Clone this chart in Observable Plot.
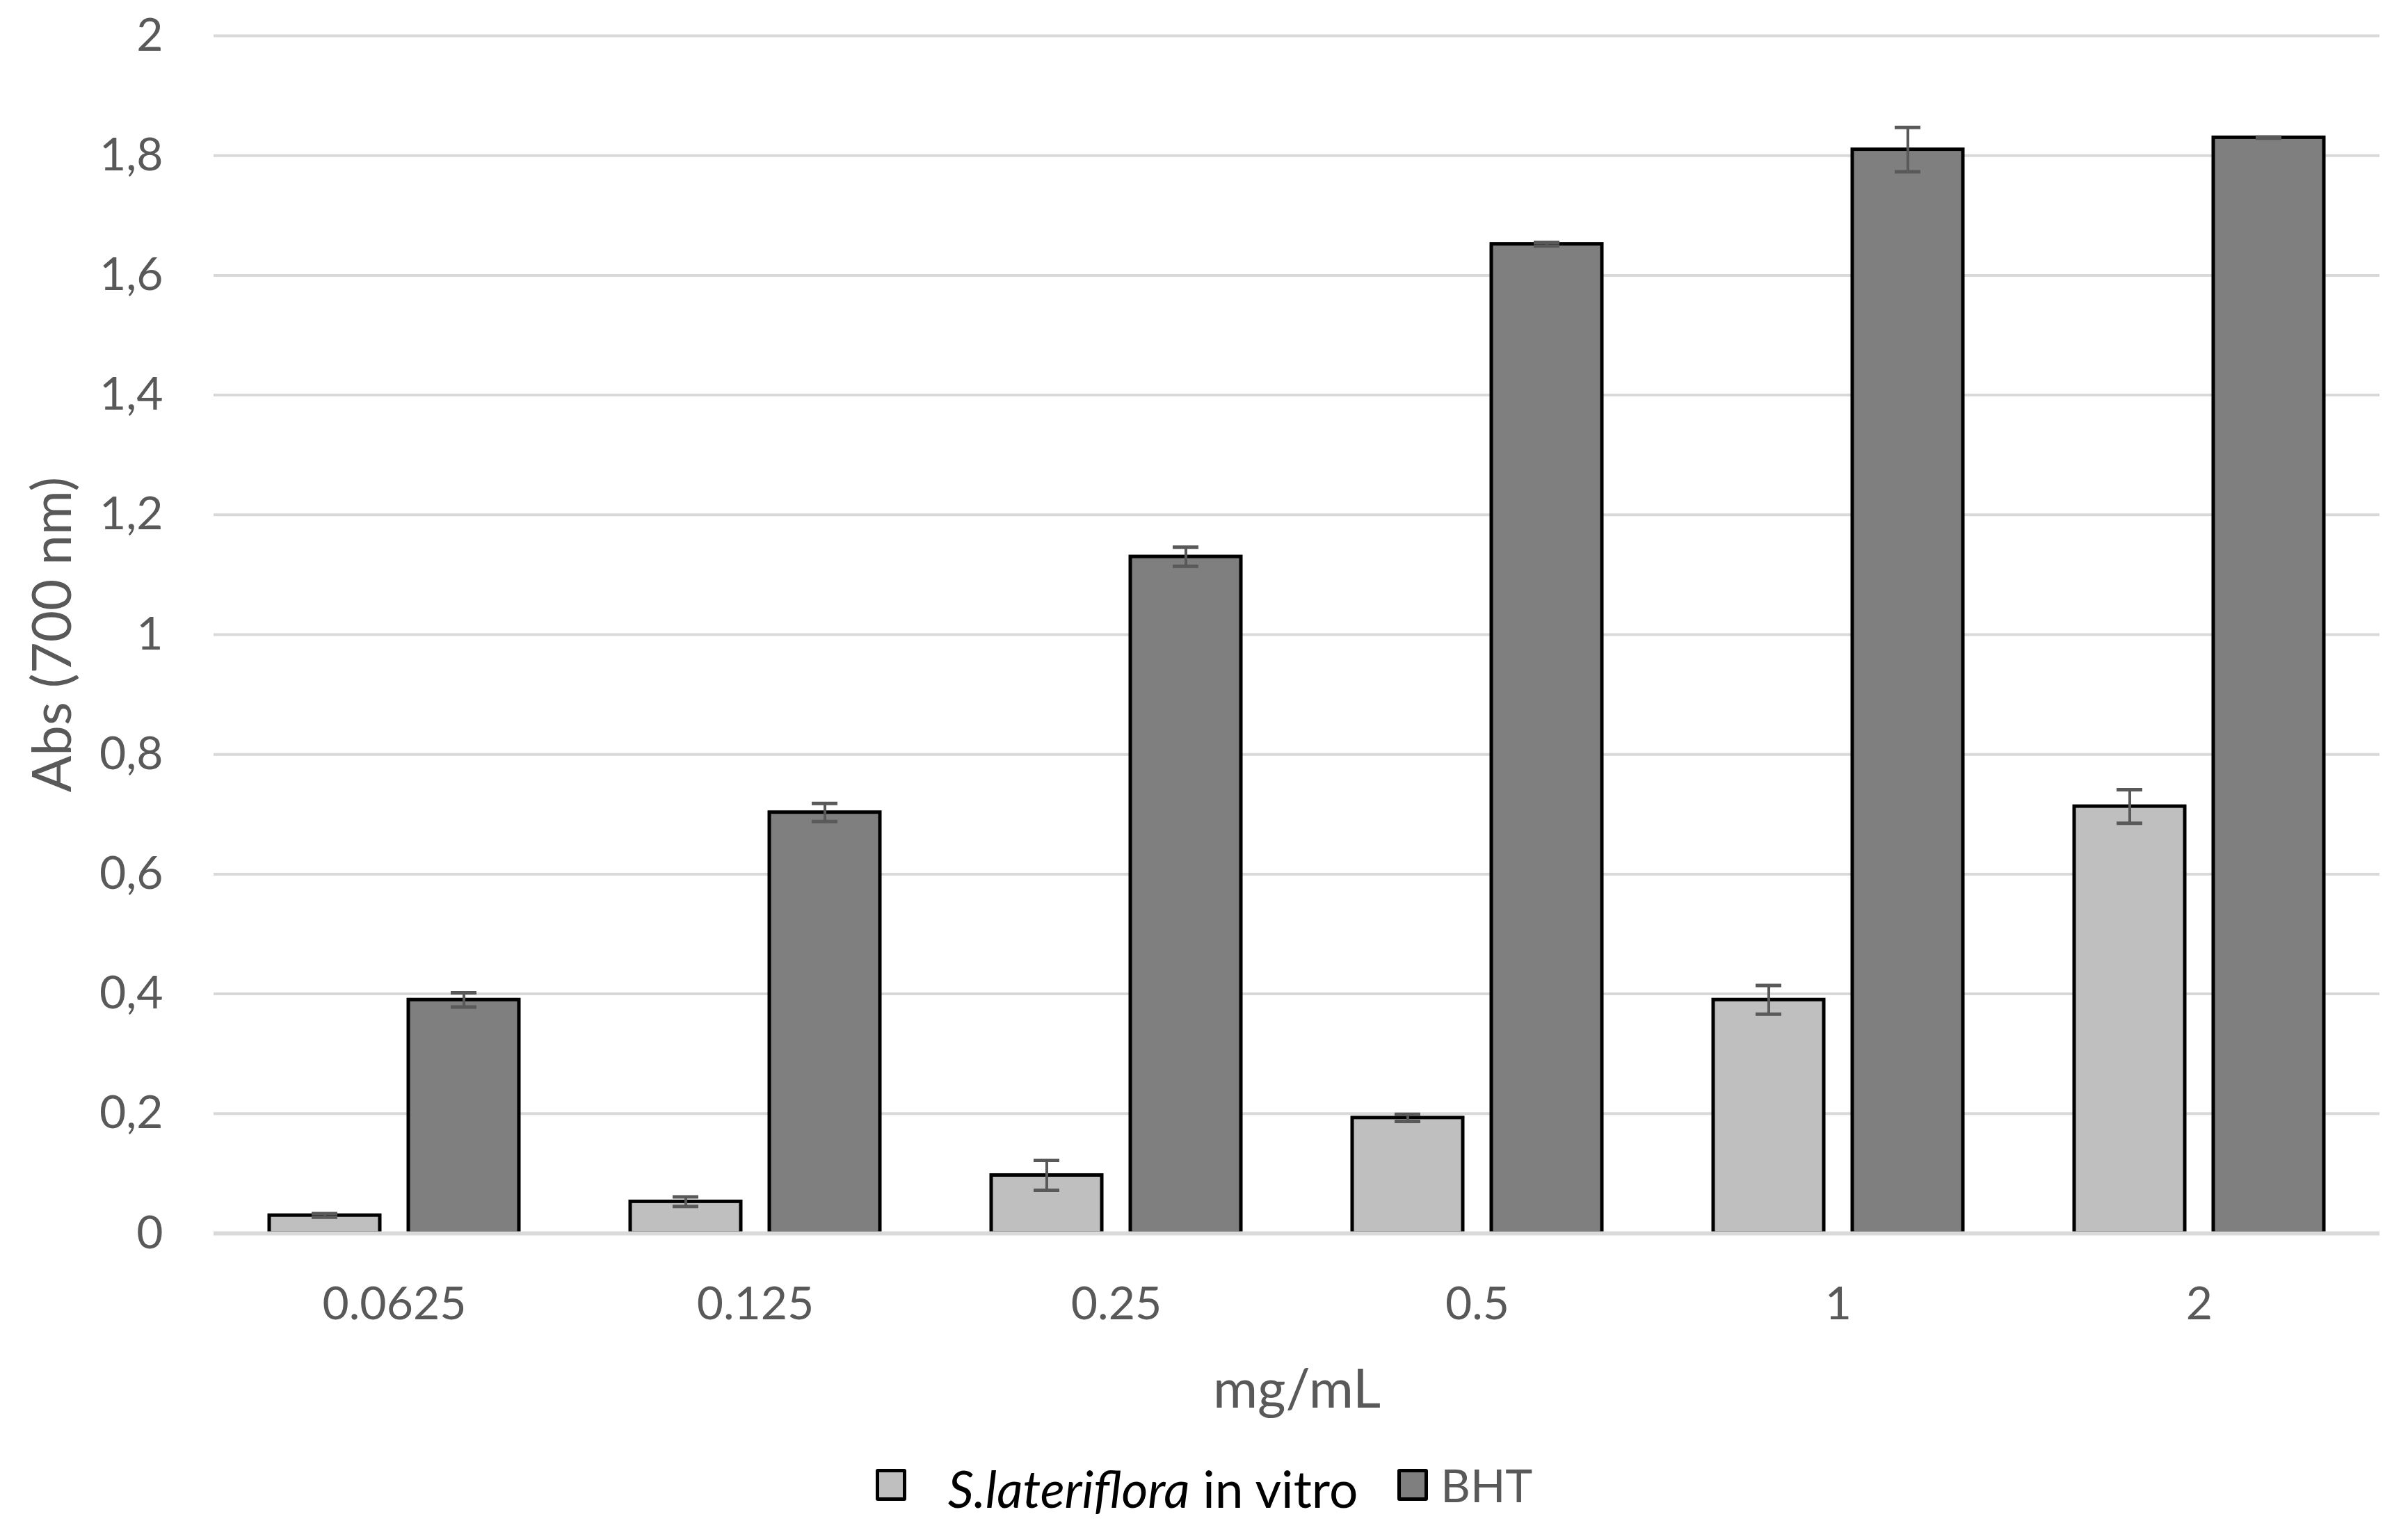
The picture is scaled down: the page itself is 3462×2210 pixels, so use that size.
<!DOCTYPE html>
<html><head><meta charset="utf-8">
<script src="https://cdn.jsdelivr.net/npm/d3@7"></script>
<script src="https://cdn.jsdelivr.net/npm/@observablehq/plot@0.6"></script>
<style>
html,body{margin:0;padding:0;background:#fff;}
body{width:3462px;height:2210px;overflow:hidden;font-family:Lato,"Open Sans",sans-serif;}
#legend{height:150px;display:flex;align-items:center;justify-content:center;line-height:1;}
#legend .sw{display:inline-block;width:34px;height:36px;border:5px solid #000;border-radius:3px;}
g[aria-label="fx-axis label"] text, g[aria-label="y-axis label"] text{font-size:78px;}
</style></head>
<body><div id="chart"></div><div id="legend"></div>
<script>
const categories = ["0.0625", "0.125", "0.25", "0.5", "1", "2"];
const seriesNames = ["S.lateriflora in vitro", "BHT"];
const seriesColors = ["#bfbfbf", "#7f7f7f"];
const slaterifloraValues = [0.030, 0.053, 0.097, 0.193, 0.390, 0.713];
const slaterifloraErrors = [0.003, 0.008, 0.025, 0.006, 0.024, 0.028];
const bhtValues = [0.390, 0.703, 1.130, 1.652, 1.810, 1.830];
const bhtErrors = [0.012, 0.015, 0.016, 0.003, 0.037, 0.001];
const yTicks = [0, 0.2, 0.4, 0.6, 0.8, 1, 1.2, 1.4, 1.6, 1.8, 2];

const rows = [];
categories.forEach((c, i) => {
  rows.push({conc: c, series: seriesNames[0], value: slaterifloraValues[i], err: slaterifloraErrors[i]});
  rows.push({conc: c, series: seriesNames[1], value: bhtValues[i], err: bhtErrors[i]});
});

const plot = Plot.plot({
  width: 3462, height: 2060,
  marginLeft: 306, marginRight: 41, marginTop: 51, marginBottom: 287,
  style: {fontFamily: "Lato, 'Open Sans', sans-serif", fontSize: "66px", color: "#595959", background: "white"},
  fx: {domain: categories, padding: 0, label: "mg/mL", axis: "bottom", tickSize: 0, tickPadding: 77, labelAnchor: "center", labelOffset: 250},
  x: {domain: seriesNames, axis: null, paddingInner: 0.204, paddingOuter: 0.394},
  y: {domain: [0, 2], ticks: yTicks, tickFormat: d => String(d).replace(".", ","), tickSize: 0, tickPadding: 73,
      label: "Abs (700 nm)", labelAnchor: "center", labelOffset: 261, labelArrow: false},
  color: {domain: seriesNames, range: seriesColors},
  marks: [
    Plot.gridY(yTicks, {stroke: "#d9d9d9", strokeWidth: 4, strokeOpacity: 1}),
    Plot.barY(rows, {fx: "conc", x: "series", y: "value", fill: "series", stroke: "#000", strokeWidth: 5}),
    Plot.ruleY([0], {stroke: "#d9d9d9", strokeWidth: 6}),
    Plot.ruleX(rows, {fx: "conc", x: "series", y1: d => d.value - d.err, y2: d => d.value + d.err, stroke: "#595959", strokeWidth: 4}),
    Plot.tickY(rows, {fx: "conc", x: "series", y: d => d.value - d.err, stroke: "#595959", strokeWidth: 5, insetLeft: 61, insetRight: 61}),
    Plot.tickY(rows, {fx: "conc", x: "series", y: d => d.value + d.err, stroke: "#595959", strokeWidth: 5, insetLeft: 61, insetRight: 61})
  ]
});
document.getElementById("chart").appendChild(plot);

const legend = document.getElementById("legend");
seriesNames.forEach((name, i) => {
  const sw = document.createElement("span");
  sw.className = "sw";
  sw.style.background = seriesColors[i];
  if (i > 0) sw.style.marginLeft = "57px";
  legend.appendChild(sw);
  const t = document.createElement("span");
  if (i === 0) {
    t.style.marginLeft = "60px";
    t.style.color = "#000";
    t.style.fontSize = "73px";
    t.style.position = "relative";
    t.style.top = "5px";
    const parts = name.split(" ");
    t.innerHTML = "<i>" + parts[0] + "</i> " + parts.slice(1).join(" ");
  } else {
    t.style.marginLeft = "18px";
    t.style.color = "#595959";
    t.style.fontSize = "66px";
    t.textContent = name;
  }
  legend.appendChild(t);
});
</script>
</body></html>
